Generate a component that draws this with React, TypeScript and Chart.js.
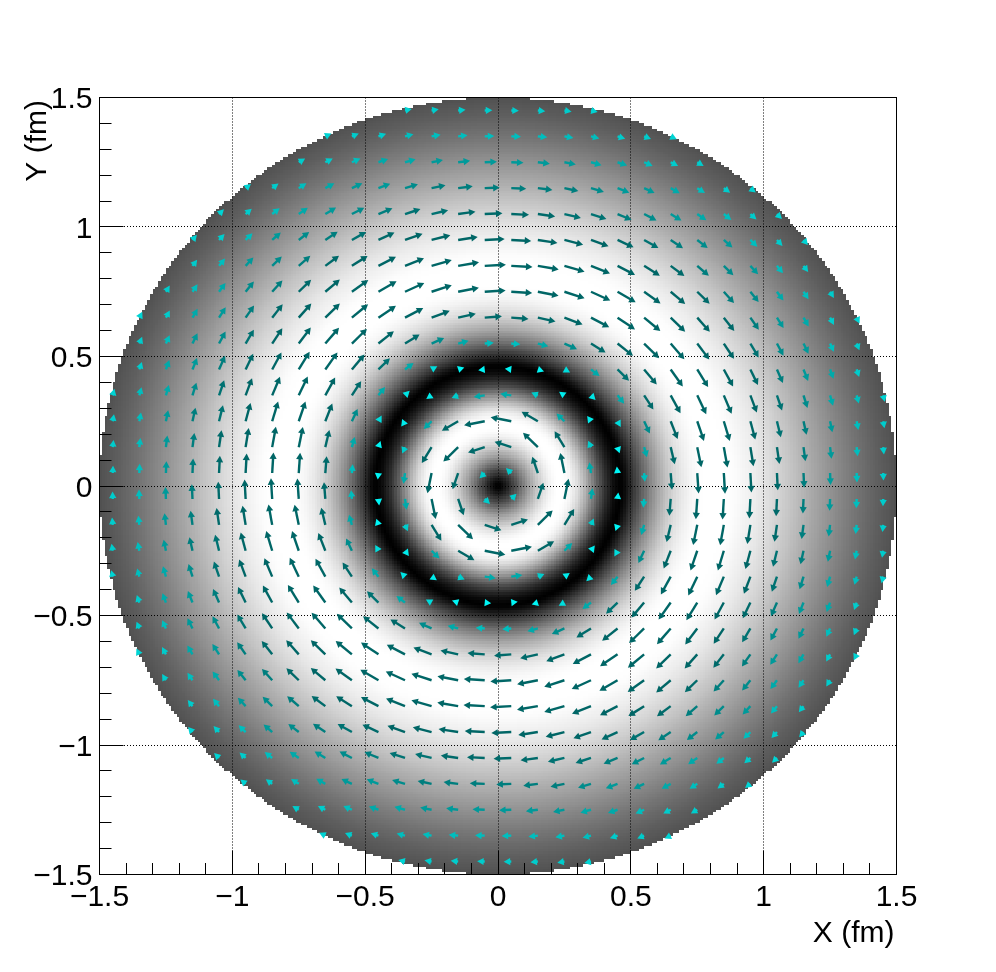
import React, { useEffect, useRef } from "react";
import { Chart, registerables } from "chart.js";

Chart.register(...registerables);

const radialGrey: number[] = [
  0, 6, 15, 28, 42, 57, 72, 88, 104, 120,
  136, 151, 165, 178, 190, 202, 213, 223, 232, 240,
  246, 251, 254, 255, 255, 254, 251, 246, 239, 230,
  219, 206, 191, 175, 158, 140, 122, 104, 87, 70,
  55, 41, 29, 19, 10, 4, 0, 5, 15, 28,
  42, 55, 68, 81, 94, 106, 118, 130, 141, 152,
  162, 172, 181, 190, 198, 206, 213, 219, 225, 230,
  235, 239, 243, 246, 249, 251, 253, 254, 255, 255,
  255, 255, 255, 255, 255, 255, 254, 254, 253, 252,
  250, 248, 246, 244, 242, 240, 238, 236, 233, 231,
  228, 225, 222, 219, 216, 213, 210, 207, 203, 200,
  197, 194, 190, 187, 183, 180, 176, 173, 170, 166,
  163, 160, 157, 153, 150, 147, 144, 141, 137, 134,
  131, 128, 125, 122, 119, 116, 113, 111, 108, 105,
  103, 100, 98, 95, 93, 91, 89, 87, 85, 83, 80,
];

// Positions of the arrow tails, fm.
const arrowColumns: number[] = [
  -1.45, -1.35, -1.25, -1.15, -1.05, -0.95, -0.85, -0.75, -0.65, -0.55,
  -0.45, -0.35, -0.25, -0.15, -0.05, 0.05, 0.15, 0.25, 0.35, 0.45,
  0.55, 0.65, 0.75, 0.85, 0.95, 1.05, 1.15, 1.25, 1.35, 1.45,
];
const arrowRows: number[] = arrowColumns;

// Sense of rotation: counter-clockwise (+1) inside the dark ring, clockwise (-1) outside.
const ringRadius = 0.46;
const longestArrow = 0.08; // fm
const arrowShades: string[] = [
  "#00f5f5", "#00ecec", "#00e4e4", "#00dcdc", "#00d4d4", "#00cccc", "#00bebe",
  "#00aaaa", "#009a9a", "#008c8c", "#007e7e", "#007272", "#006a6a", "#006666", "#006666",
];

const xTicks: number[] = [-1.5, -1, -0.5, 0, 0.5, 1, 1.5];
const minorTicks: number[] = [
  -1.4, -1.3, -1.2, -1.1, -0.9, -0.8, -0.7, -0.6, -0.4, -0.3, -0.2, -0.1,
  0.1, 0.2, 0.3, 0.4, 0.6, 0.7, 0.8, 0.9, 1.1, 1.2, 1.3, 1.4,
];
const greyBins = 300;
const domainMin = -1.5;
const domainMax = 1.5;

// Colour-scale lookup: reads the brightness table at radius r.
const greyAt = (r: number) => {
  const t = Math.min(radialGrey.length - 1, r * 100);
  const i = Math.floor(t);
  const j = Math.min(radialGrey.length - 1, i + 1);
  return radialGrey[i] + (radialGrey[j] - radialGrey[i]) * (t - i);
};

const arrowTails: { x: number; y: number }[] = [];
arrowRows.forEach((y) =>
  arrowColumns.forEach((x) => {
    if (Math.hypot(x, y) < 1.5) arrowTails.push({ x, y });
  })
);

const fieldPlugin = {
  id: "field",
  afterLayout(chart: any) {
    chart.scales.x.right -= 2;
    chart.scales.y.top += 2.5;
  },
  beforeDraw(chart: any) {
    const { ctx, scales } = chart;
    const { x: sx, y: sy } = scales;
    const w = (domainMax - domainMin) / greyBins;
    ctx.save();
    ctx.fillStyle = "#ffffff";
    ctx.fillRect(0, 0, chart.width, chart.height);
    for (let j = 0; j < greyBins; j++) {
      const y0 = domainMin + j * w;
      const py0 = Math.round(sy.getPixelForValue(y0));
      const py1 = Math.round(sy.getPixelForValue(y0 + w));
      for (let i = 0; i < greyBins; i++) {
        const x0 = domainMin + i * w;
        const r = Math.hypot(x0 + w / 2, y0 + w / 2);
        if (r >= 1.5) continue;
        const px0 = Math.round(sx.getPixelForValue(x0));
        const px1 = Math.round(sx.getPixelForValue(x0 + w));
        const g = Math.round(greyAt(r));
        ctx.fillStyle = `rgb(${g},${g},${g})`;
        ctx.fillRect(px0, py1, px1 - px0, py0 - py1);
      }
    }
    ctx.restore();
  },
  afterDatasetsDraw(chart: any) {
    const { ctx, scales } = chart;
    const { x: sx, y: sy } = scales;
    const headLength = 6.5;
    const headHalf = 3.6;
    ctx.save();
    ctx.lineWidth = 2.4;
    ctx.lineCap = "butt";
    for (const p of chart.data.datasets[0].data as { x: number; y: number }[]) {
      const r = Math.hypot(p.x, p.y);
      const m = greyAt(r) / 255;
      const sense = r < ringRadius ? 1 : -1;
      const len = m * longestArrow;
      const ux = (-p.y / r) * sense * len;
      const uy = (p.x / r) * sense * len;
      const tx = sx.getPixelForValue(p.x);
      const ty = sy.getPixelForValue(p.y);
      let hx = sx.getPixelForValue(p.x + ux);
      let hy = sy.getPixelForValue(p.y + uy);
      let dx = hx - tx;
      let dy = hy - ty;
      let d = Math.hypot(dx, dy);
      if (d < headLength) {
        // Very short arrows keep the full head: they read as small blobs.
        const ax = sx.getPixelForValue(p.x + (-p.y / r) * sense);
        const ay = sy.getPixelForValue(p.y + (p.x / r) * sense);
        const al = Math.hypot(ax - tx, ay - ty);
        dx = ((ax - tx) / al) * headLength;
        dy = ((ay - ty) / al) * headLength;
        d = headLength;
        hx = tx + dx;
        hy = ty + dy;
      }
      const ex = dx / d;
      const ey = dy / d;
      const colour = arrowShades[Math.min(arrowShades.length - 1, Math.floor(m * arrowShades.length))];
      const bx = hx - ex * headLength;
      const by = hy - ey * headLength;
      ctx.strokeStyle = colour;
      ctx.fillStyle = colour;
      if (d > headLength) {
        ctx.beginPath();
        ctx.moveTo(tx, ty);
        ctx.lineTo(bx + ex, by + ey);
        ctx.stroke();
      }
      ctx.beginPath();
      ctx.moveTo(hx, hy);
      ctx.lineTo(bx - ey * headHalf, by + ex * headHalf);
      ctx.lineTo(bx + ey * headHalf, by - ex * headHalf);
      ctx.closePath();
      ctx.fill();
    }
    ctx.restore();
  },
  afterDraw(chart: any) {
    const { ctx, chartArea: a, scales } = chart;
    const line = (x0: number, y0: number, x1: number, y1: number) => {
      ctx.beginPath();
      ctx.moveTo(x0, y0);
      ctx.lineTo(x1, y1);
      ctx.stroke();
    };
    const snap = (v: number) => Math.floor(v) + 0.5;
    ctx.save();
    ctx.strokeStyle = "#000000";
    ctx.lineWidth = 1;
    ctx.setLineDash([]);
    ctx.strokeRect(a.left, a.top, a.right - a.left, a.bottom - a.top);
    xTicks.forEach((v) => {
      const px = snap(scales.x.getPixelForValue(v));
      line(px, a.bottom, px, a.bottom - 24);
      const py = snap(scales.y.getPixelForValue(v));
      line(a.left, py, a.left + 24, py);
    });
    minorTicks.forEach((v) => {
      const px = snap(scales.x.getPixelForValue(v));
      line(px, a.bottom, px, a.bottom - 11.5);
      const py = snap(scales.y.getPixelForValue(v));
      line(a.left, py, a.left + 12, py);
    });
    ctx.restore();
  },
};

const FONT = "'Liberation Sans', Arial, sans-serif";
const formatTick = (v: number | string) => String(v).replace("-", "\u2212");

export default function App() {
  const ref = useRef<HTMLCanvasElement | null>(null);
  useEffect(() => {
    if (!ref.current) return;
    const sharpGrid = {
      color: "#000000",
      lineWidth: 1,
      drawTicks: false,
    };
    const chart = new Chart(ref.current, {
      type: "scatter",
      data: {
        datasets: [{ label: "field", data: arrowTails, pointRadius: 0, showLine: false }],
      },
      plugins: [fieldPlugin],
      options: {
        responsive: false,
        animation: false,
        layout: { padding: { left: 0, right: 99.5, top: 97.5, bottom: 0 } },
        plugins: { legend: { display: false }, title: { display: false }, tooltip: { enabled: false } },
        scales: {
          x: {
            type: "linear",
            min: domainMin,
            max: domainMax,
            grid: sharpGrid,
            border: { display: false, dash: [1, 2] },
            ticks: {
              stepSize: 0.5,
              autoSkip: false,
              maxRotation: 0,
              padding: 5,
              color: "#000000",
              font: { family: FONT, size: 30 },
              callback: formatTick,
            },
            title: {
              display: true,
              text: "X (fm)",
              align: "end",
              color: "#000000",
              font: { family: FONT, size: 30 },
              padding: { top: 0, bottom: 20 },
            },
            afterFit: (s: any) => {
              s.height = 97.5;
              s.paddingLeft = s.paddingRight = s.paddingTop = s.paddingBottom = 0;
            },
          },
          y: {
            type: "linear",
            min: domainMin,
            max: domainMax,
            grid: sharpGrid,
            border: { display: false, dash: [1, 2] },
            ticks: {
              stepSize: 0.5,
              autoSkip: false,
              padding: 7,
              labelOffset: 2.5,
              color: "#000000",
              font: { family: FONT, size: 30 },
              callback: formatTick,
            },
            title: {
              display: true,
              text: "Y (fm)",
              align: "end",
              color: "#000000",
              font: { family: FONT, size: 30 },
              padding: { top: 20, bottom: 0 },
            },
            afterFit: (s: any) => {
              s.width = 99.5;
              s.paddingLeft = s.paddingRight = s.paddingTop = s.paddingBottom = 0;
            },
          },
        },
      },
    } as any);
    return () => chart.destroy();
  }, []);
  return (
    <div style={{ position: "absolute", left: 0, top: 0, width: 996, height: 972 }}>
      <canvas ref={ref} width={996} height={972} style={{ display: "block" }} />
    </div>
  );
}
